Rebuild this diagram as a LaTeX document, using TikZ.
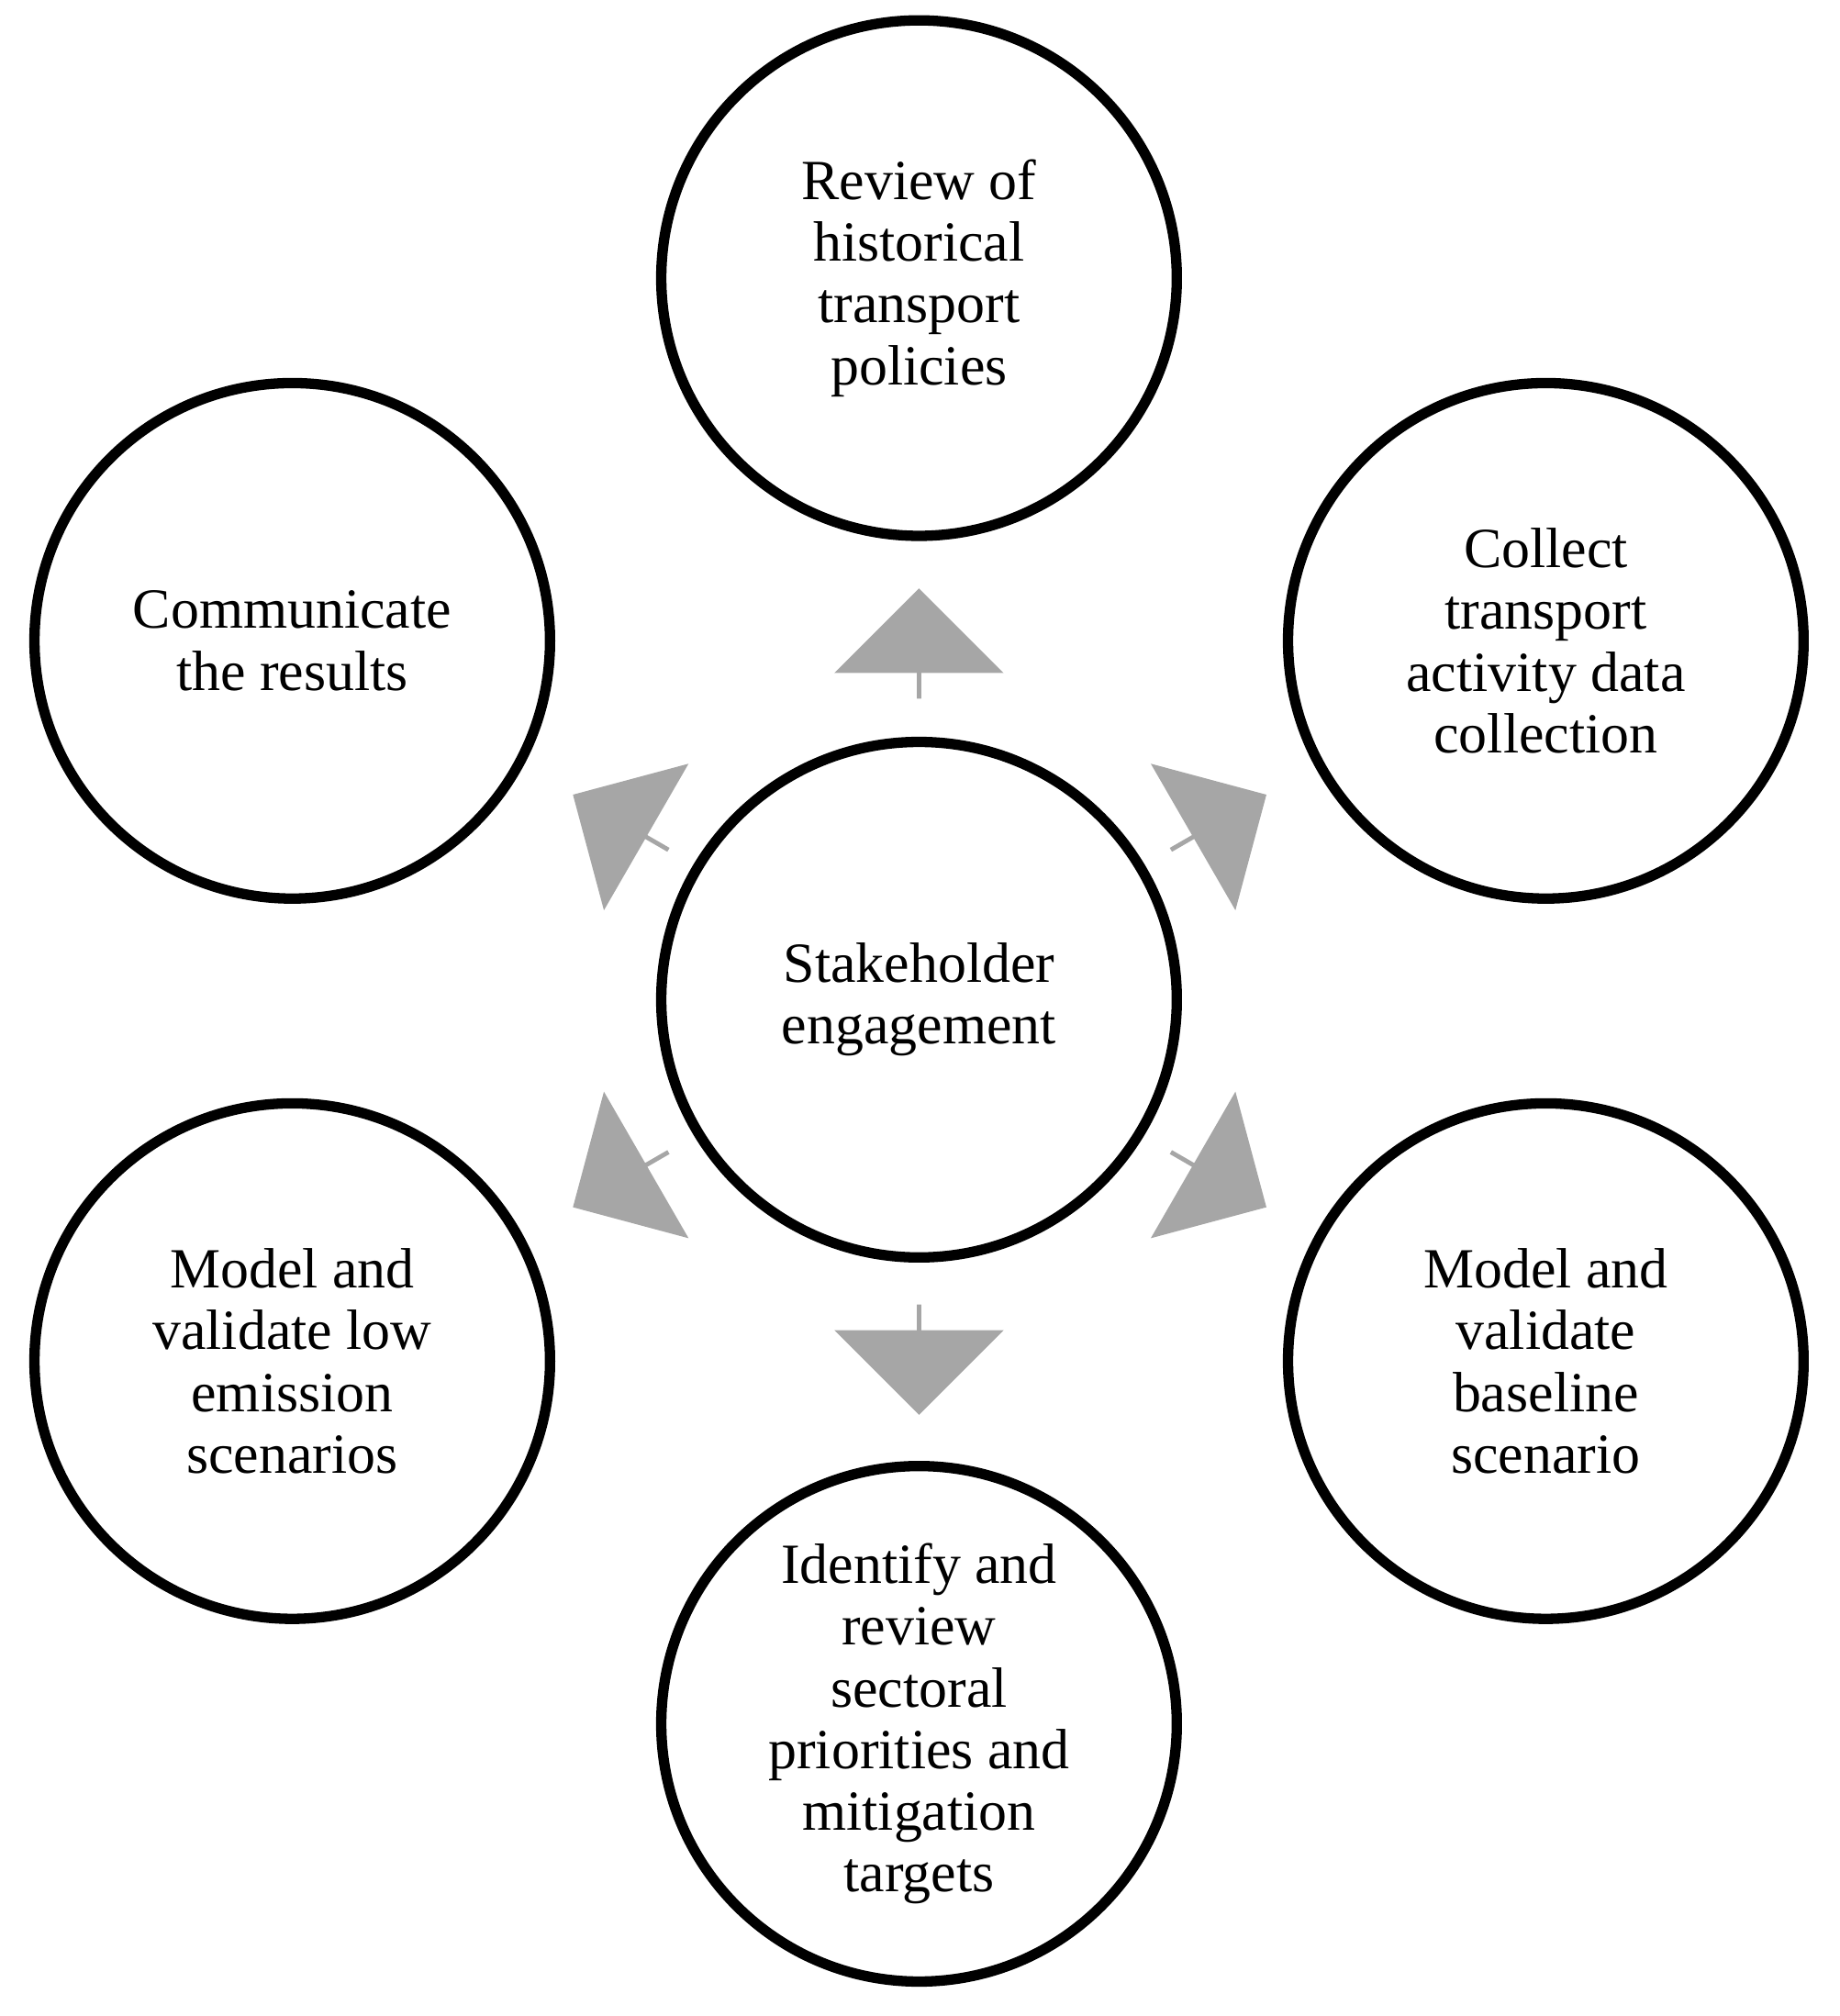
\documentclass[tikz,border=0pt]{standalone}
\usepackage{fontspec}
\setmainfont{Liberation Serif}
\usetikzlibrary{shapes.arrows}
\begin{document}
\begin{tikzpicture}[x=0.01cm, y=-0.01cm, main/.style = {draw, circle, line width=2.3pt, minimum size=4.02cm, inner sep=0pt, align=center, font=\fontsize{12.6}{13.7}\selectfont}, step/.style = {single arrow, fill=black!35, draw=none, minimum width=1.32cm, minimum height=0.86cm, single arrow head extend=0.26cm, inner sep=0pt, rotate=#1}]
    \useasboundingbox (0,0) rectangle (1435,1573);
    \node[main] (0) at (717,780) {Stakeholder\\engagement};
    \node[main] (1) at (717,217) {Review of\\historical\\transport\\policies};
    \node[main] (2) at (1206,500) {Collect\\transport\\activity data\\collection};
    \node[main] (3) at (1206,1062) {Model and\\validate\\baseline\\scenario};
    \node[main] (4) at (717,1345) {Identify and\\review\\sectoral\\priorities and\\mitigation\\targets};
    \node[main] (5) at (228,1062) {Model and\\validate low\\emission\\scenarios};
    \node[main] (6) at (228,500) {Communicate\\the results};

    \node[step=90] (a1) at (717,503) {};
    \node[step=30] (a2) at (950,642) {};
    \node[step=-30] (a3) at (950,920) {};
    \node[step=-90] (a4) at (717,1060) {};
    \node[step=-150] (a5) at (485,920) {};
    \node[step=150] (a6) at (485,642) {};
\end{tikzpicture}
\end{document}
